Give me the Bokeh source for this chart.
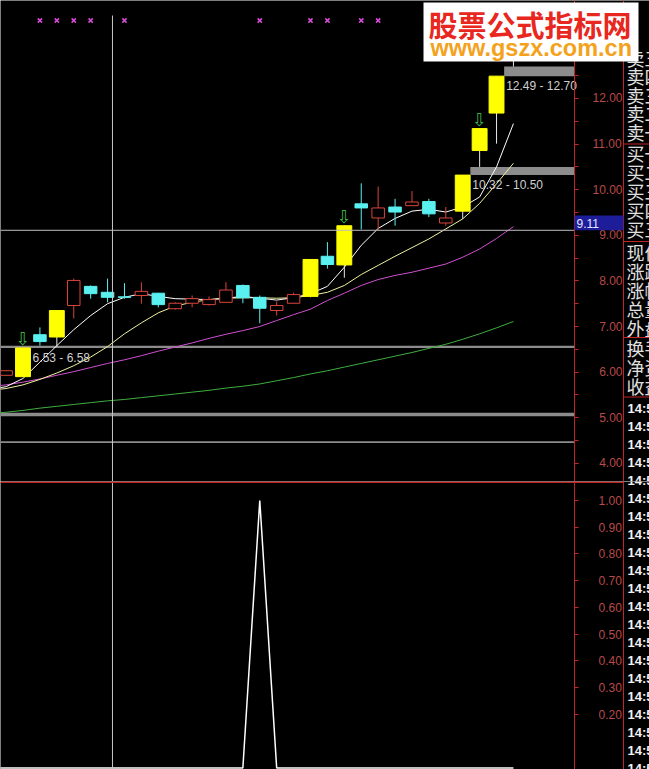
from bokeh.plotting import figure
from bokeh.layouts import column
from bokeh.models import (LinearAxis, SingleIntervalTicker, FixedTicker, CustomJSTickFormatter,
                          PrintfTickFormatter, Range1d)
from bokeh.core.properties import value
from bokeh.embed import file_html
from bokeh.resources import INLINE

# ---------------- daily bars (day 30 is today's bar) ----------------
days = list(range(31))
opens = [5.93, 5.90, 6.82, 6.77, 7.46, 7.88, 7.75, 7.65, 7.68, 7.73,
         7.39, 7.51, 7.48, 7.53, 7.90, 7.64, 7.35, 7.51, 7.66, 8.54,
         8.35, 9.69, 9.38, 9.62, 9.65, 9.74, 9.27, 9.53, 10.86, 11.68, 12.95]
highs = [6.05, 6.53, 6.98, 7.36, 8.05, 7.90, 8.05, 7.95, 7.97, 7.74,
         7.53, 7.68, 7.66, 7.97, 7.92, 7.68, 7.55, 7.74, 8.48, 8.85,
         9.22, 10.14, 10.07, 9.80, 9.97, 9.80, 9.62, 10.32, 11.35, 12.49, 13.50]
lows = [5.92, 5.90, 6.58, 6.56, 7.18, 7.61, 7.53, 7.61, 7.50, 7.42,
        7.37, 7.42, 7.46, 7.53, 7.51, 7.07, 7.24, 7.50, 7.64, 8.27,
        8.07, 9.13, 9.11, 9.21, 9.64, 9.40, 9.21, 9.36, 10.50, 11.01, 12.70]
closes = [6.03, 6.53, 6.67, 7.35, 8.01, 7.72, 7.64, 7.64, 7.77, 7.48,
          7.51, 7.61, 7.59, 7.80, 7.63, 7.40, 7.46, 7.70, 8.47, 8.36,
          9.21, 9.60, 9.60, 9.51, 9.73, 9.47, 9.38, 10.32, 11.34, 12.49, 13.40]

# days highlighted by the signal formula (yellow bars) and its arrows
yellow_days = [1, 3, 18, 20, 27, 28, 29, 30]
arrow_days = [1, 20, 28]
# top-row "x" marks
cross_days = [2, 3, 4, 5, 7, 15, 18, 19, 21, 22]

# ---------------- moving averages ----------------
ma_days = list(range(-1, 31))
ma5 = [5.62, 5.68, 5.86, 6.22, 6.58, 6.93, 7.24, 7.50, 7.64, 7.72, 7.66, 7.61,
       7.60, 7.59, 7.62, 7.66, 7.62, 7.58, 7.63, 7.72, 7.88, 8.30, 8.78, 9.15,
       9.37, 9.53, 9.57, 9.51, 9.62, 9.84, 10.50, 11.45]
ma10 = [5.60, 5.64, 5.72, 5.84, 5.98, 6.14, 6.33, 6.56, 6.84, 7.08, 7.30, 7.45,
        7.53, 7.59, 7.62, 7.63, 7.63, 7.62, 7.63, 7.68, 7.75, 7.90, 8.14, 8.34,
        8.54, 8.73, 8.92, 9.14, 9.36, 9.70, 10.13, 10.58]
ma20 = [5.68, 5.72, 5.78, 5.85, 5.93, 6.01, 6.10, 6.19, 6.27, 6.36, 6.46, 6.55,
        6.64, 6.74, 6.83, 6.91, 7.00, 7.13, 7.26, 7.38, 7.57, 7.73, 7.90, 8.03,
        8.12, 8.19, 8.28, 8.37, 8.52, 8.70, 8.93, 9.19]
ma60 = [5.09, 5.12, 5.16, 5.21, 5.25, 5.29, 5.33, 5.37, 5.40, 5.44, 5.48, 5.52,
        5.56, 5.60, 5.65, 5.69, 5.74, 5.81, 5.88, 5.96, 6.03, 6.11, 6.19, 6.27,
        6.35, 6.43, 6.52, 6.61, 6.72, 6.84, 6.97, 7.11]

# ---------------- unfilled price gaps ----------------
gap_low = [4.445, 5.03, 6.53, 10.32, 12.49]
gap_high = [4.485, 5.11, 6.58, 10.50, 12.70]
gap_band_from = [None, None, None, 27, 29]   # None: opened before the visible window
gap_label_day = [None, None, 1, 27, 29]

# ---------------- lower indicator ----------------
sig_days = list(range(-1, 31))
sig = [0, 0, 0, 0, 0, 0, 0, 0, 0, 0, 0, 0, 0, 0, 0, 0,
       1, 0, 0, 0, 0, 0, 0, 0, 0, 0, 0, 0, 0, 0, 0, 0]
sub_ticks = [0.2, 0.3, 0.4, 0.5, 0.6, 0.7, 0.8, 0.9, 1.0]

# cross-hair
cursor_day = 6.29
cursor_price = 9.11

# quote panel captions
quote_rows = ["卖五", "卖四", "卖三", "卖二", "卖一",
              "买一", "买二", "买三", "买四", "买五",
              "现价", "涨跌", "涨幅", "总量", "外盘",
              "换手", "净资", "收益"]
tick_times = ["14:56", "14:56", "14:56", "14:56", "14:57", "14:57", "14:57",
              "14:57", "14:57", "14:58", "14:58", "14:58", "14:58", "14:58",
              "14:59", "14:59", "14:59", "14:59", "14:59", "14:59", "14:59"]

# ---------------- geometry (pixels of the 649 px wide page) ----------------
W = 649
AX_PX = 574                 # price scale line
SIDE_PX = 623               # quote panel border
UP_H, LO_H = 481, 288
X0 = -0.331
DAY_PER_PX = (33.61 - X0) / AX_PX
X_END = X0 + W * DAY_PER_PX
UP_BOT, UP_TOP = 3.601, 14.149
LO_BOT, LO_TOP = -0.0056, 1.071

AXIS_RED = "#c02424"
LABEL_RED = "#b84a4a"
BG = "#000000"


def xd(px):
    return X0 + px * DAY_PER_PX


AX_X = xd(AX_PX)


def yu(py):
    return UP_TOP - py * (UP_TOP - UP_BOT) / UP_H


def yl(py):
    return LO_TOP - (py - UP_H) * (LO_TOP - LO_BOT) / LO_H


def base_fig(height, y0, y1, ticker, formatter, standoff):
    f = figure(width=W, height=height, x_range=Range1d(X0, X_END), y_range=Range1d(y0, y1),
               output_backend="svg", toolbar_location=None, x_axis_location=None,
               y_axis_location=None, background_fill_color=BG, border_fill_color=BG,
               outline_line_color=None, min_border=0)
    f.grid.visible = False
    ax = LinearAxis(fixed_location=AX_X, ticker=ticker, formatter=formatter)
    ax.axis_line_color = AXIS_RED
    ax.major_tick_line_color = AXIS_RED
    ax.minor_tick_line_color = AXIS_RED
    ax.major_tick_out = 4
    ax.major_tick_in = 0
    ax.minor_tick_out = 4
    ax.minor_tick_in = 0
    ax.major_label_text_color = LABEL_RED
    ax.major_label_text_font = "Liberation Sans"
    ax.major_label_text_font_size = "12px"
    ax.major_label_standoff = standoff
    f.add_layout(ax, "right")
    return f


def add_quote_panel(f, to_y, top_px, bot_px):
    f.quad(left=[xd(SIDE_PX - 0.5)], right=[xd(SIDE_PX + 0.5)], top=[to_y(top_px)],
           bottom=[to_y(bot_px)], fill_color=AXIS_RED, line_color=None)
    rows_y = [57, 75.5, 94, 112.5, 131, 152.5, 171.5, 190.5, 209.5, 228.5,
              251, 270, 289, 308, 327, 347.5, 366.5, 385.5]
    keep = [i for i, y in enumerate(rows_y) if top_px - 10 <= y <= bot_px + 10]
    if keep:
        f.text(x=[xd(626)] * len(keep), y=[to_y(rows_y[i]) for i in keep],
               text=[quote_rows[i] for i in keep], text_font=value("Noto Sans CJK SC"),
               text_font_size="18px", text_color="#e0e0e0", text_baseline="middle",
               text_align="left")
    times_y = [408 + 18 * k for k in range(len(tick_times))]
    keep = [i for i, y in enumerate(times_y) if top_px - 10 <= y <= bot_px + 10]
    if keep:
        f.text(x=[xd(627)] * len(keep), y=[to_y(times_y[i]) for i in keep],
               text=[tick_times[i] for i in keep], text_font=value("Liberation Sans"),
               text_font_size="13px", text_font_style="bold", text_color="#f2f2f2",
               text_baseline="middle", text_align="left")
    seps = [s for s in [143.5, 241, 337, 396.5] if top_px <= s <= bot_px]
    if seps:
        f.quad(left=[xd(SIDE_PX)] * len(seps), right=[X_END] * len(seps),
               top=[to_y(s - 0.5) for s in seps], bottom=[to_y(s + 0.5) for s in seps],
               fill_color=AXIS_RED, line_color=None)


# ================= price panel =================
p = base_fig(UP_H, UP_BOT, UP_TOP, SingleIntervalTicker(interval=1, num_minor_ticks=2),
             CustomJSTickFormatter(code="const s = tick.toFixed(2); "
                                        "return s.length < 5 ? '\\u2007' + s : s;"), 14)

# gap bands
p.quad(left=[X0 if d is None else d + 0.45 for d in gap_band_from], right=[AX_X] * len(gap_low),
       bottom=gap_low, top=gap_high, fill_color="#8c8c8c", line_color=None)

# moving averages
p.line(ma_days, ma60, line_color="#3fae3f", line_width=1)
p.line(ma_days, ma20, line_color="#d050d0", line_width=1)
p.line(ma_days, ma10, line_color="#f2f2a0", line_width=1)
p.line(ma_days, ma5, line_color="#ffffff", line_width=1)

# candles
kind = []
for d in days:
    if d in yellow_days:
        kind.append("y")
    elif closes[d] >= opens[d]:
        kind.append("u")
    else:
        kind.append("d")
wick_col = {"y": "#e6e6e6", "u": "#d8443c", "d": "#5af0f0"}
p.segment(x0=days, y0=highs, x1=days, y1=lows, line_color=[wick_col[k] for k in kind], line_width=1)


def body(k):
    sel = [d for d in days if kind[d] == k]
    return dict(x=sel, top=[max(opens[d], closes[d]) for d in sel],
                bottom=[min(opens[d], closes[d]) for d in sel])


p.vbar(width=0.74, fill_color=BG, line_color="#d8443c", line_width=1, **body("u"))
p.vbar(width=0.74, fill_color="#5af0f0", line_color="#5af0f0", line_width=1, **body("d"))
p.vbar(width=0.88, fill_color="#ffff00", line_color="#ffff00", line_width=1, **body("y"))

# signal arrows
p.text(x=arrow_days, y=[highs[d] for d in arrow_days], text=["⇩"] * len(arrow_days),
       text_font=value("DejaVu Sans"), text_font_size="18px", text_color="#3cb043",
       text_align="center", text_baseline="middle", y_offset=-9)

# gap captions
lab = [i for i, d in enumerate(gap_label_day) if d is not None]
p.text(x=[gap_label_day[i] + 0.45 for i in lab], y=[gap_low[i] for i in lab],
       text=[f"{gap_low[i]:.2f} - {gap_high[i]:.2f}" for i in lab],
       text_font=value("Liberation Sans"), text_font_size="12px", text_color="#d0d0d0",
       text_align="left", text_baseline="middle", x_offset=2, y_offset=10)

# top-row marks
p.scatter(x=cross_days, y=[yu(20)] * len(cross_days), marker="x", size=6,
          line_color="#d84ad8", line_width=1.5)

# cross-hair
p.segment(x0=[cursor_day], y0=[yu(15)], x1=[cursor_day], y1=[UP_BOT],
          line_color="#c8c8c8", line_width=1)
p.segment(x0=[X0], y0=[cursor_price], x1=[AX_X], y1=[cursor_price],
          line_color="#bdbdbd", line_width=1)
p.quad(left=[AX_X], right=[xd(SIDE_PX)], top=[yu(215)], bottom=[cursor_price],
       fill_color="#1d1d9a", line_color=None, level="overlay")
p.text(x=[xd(576)], y=[yu(222.5)], text=[f"{cursor_price:.2f}"], text_font=value("Liberation Sans"),
       text_font_size="12px", text_color="#e6e6ff", text_baseline="middle", level="overlay")

add_quote_panel(p, yu, 0, UP_H)

# site logo box
p.quad(left=[xd(423)], right=[xd(638)], top=[yu(2)], bottom=[yu(61)],
       fill_color="#ffffff", line_color=None, level="overlay")
p.text(x=[xd(428)], y=[yu(23)], text=["股票公式指标网"], text_font=value("Noto Sans CJK SC"),
       text_font_style="bold", text_font_size="29px", text_color="#e8271e",
       text_baseline="middle", level="overlay")
p.text(x=[xd(430)], y=[yu(47)], text=["www.gszx.com.cn"], text_font=value("Liberation Sans"),
       text_font_style="bold", text_font_size="23.5px", text_color="#f4a21c",
       text_baseline="middle", level="overlay")

# ================= indicator panel =================
q = base_fig(LO_H, LO_BOT, LO_TOP, FixedTicker(ticks=sub_ticks, minor_ticks=[]),
             PrintfTickFormatter(format="%.2f"), 20)

q.line(sig_days, sig, line_color="#ffffff", line_width=1.5)
q.segment(x0=[cursor_day], y0=[LO_BOT], x1=[cursor_day], y1=[LO_TOP],
          line_color="#c8c8c8", line_width=1)
q.quad(left=[X0], right=[xd(SIDE_PX)], top=[LO_TOP], bottom=[yl(UP_H + 1.5)],
       fill_color=AXIS_RED, line_color=None)
add_quote_panel(q, yl, UP_H, UP_H + LO_H)

layout = column(p, q, spacing=0)
open("out.html", "w").write(file_html(layout, INLINE))
